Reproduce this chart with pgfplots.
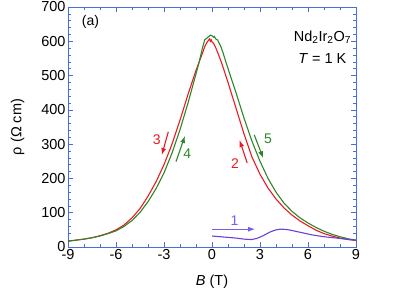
\documentclass[border=0pt]{standalone}
\usepackage{fontspec}
\setmainfont{Liberation Sans}
\usepackage{pgfplots}
\pgfplotsset{compat=1.18}
\usetikzlibrary{arrows.meta}
\definecolor{axblue}{RGB}{70,110,225}
\definecolor{cred}{RGB}{235,25,35}
\definecolor{cgreen}{RGB}{45,135,40}
\definecolor{cblue}{RGB}{105,65,215}
\definecolor{ablue}{RGB}{120,95,235}
\begin{document}
\begin{tikzpicture}
\begin{axis}[
  at={(0,0)}, anchor=south west,
  scale only axis, width=288pt, height=240pt,
  xmin=-9, xmax=9, ymin=0, ymax=700,
  xtick={-9,-6,...,9}, ytick={0,100,...,700},
  minor x tick num=2, minor y tick num=4,
  tick align=inside,
  major tick length=5pt, minor tick length=3pt,
  axis line style={axblue, line width=0.8pt},
  every tick/.style={axblue, line width=0.7pt},
  tick label style={font=\fontsize{14.5}{16}\selectfont, black},
  xticklabel style={yshift=1pt},
  yticklabel style={xshift=1pt},
  /pgf/number format/assume math mode=true,
  xlabel={\textit{B} (T)}, ylabel={ρ (Ω cm)},
  label style={font=\fontsize{14.5}{16}\selectfont},
  xlabel style={yshift=-8pt},
  ylabel style={yshift=10pt},
  clip=false,
]
\addplot[cred, line width=1.1pt] coordinates {
(9,19)(8.5,22)(8,26)(7.5,32)(7,39)(6.5,49)(6,62)(5.5,76)(5,93)(4.5,114)(4,140)(3.5,172)(3,212)(2.5,262)(2,330)(1.5,405)(1,480)(0.6,537)(0.4,562)(0.2,585)(0.1,594)(0,598)(-0.05,604)(-0.1,600)(-0.15,607)(-0.2,604)(-0.3,598)(-0.45,585)(-0.6,565)(-0.8,540)(-1,515)(-1.5,445)(-2,370)(-2.5,300)(-3,240)(-3.5,190)(-4,148)(-4.5,112)(-5,85)(-5.5,64)(-6,50)(-6.5,40)(-7,33)(-7.5,27)(-8,23)(-8.5,20)(-9,17)
};
\addplot[cgreen, line width=1.1pt] coordinates {
(-9,17)(-8.5,20)(-8,23)(-7.5,27)(-7,32)(-6.5,39)(-6,47)(-5.5,60)(-5,77)(-4.5,101)(-4,132)(-3.5,170)(-3,216)(-2.5,274)(-2,342)(-1.5,420)(-1,505)(-0.8,540)(-0.6,580)(-0.45,605)(-0.35,608)(-0.25,612)(-0.1,618)(0,616)(0.1,612)(0.15,614)(0.25,606)(0.35,604)(0.45,594)(0.55,585)(0.7,565)(0.9,535)(1.2,492)(1.5,450)(2,376)(2.5,308)(3,250)(3.5,200)(4,160)(4.5,128)(5,104)(5.5,85)(6,70)(6.5,57)(7,46)(7.5,37)(8,30)(8.5,24)(9,20)
};
\addplot[cblue, line width=1.1pt, smooth] coordinates {
(0,32)(0.5,30)(1,28)(1.5,26)(2,23)(2.5,22)(2.8,25)(3.2,33)(3.6,43)(4,50)(4.35,52)(4.8,50)(5.3,45)(5.8,40)(6.3,35)(7,30)(7.8,26)(8.5,22)(9,20)
};
\draw[ablue, line width=1.1pt, -{Latex[length=7pt,width=5pt]}] (axis cs:0,52) -- (axis cs:2.7,52);
\node[ablue, font=\fontsize{14}{16}\selectfont] at (axis cs:1.4,76) {1};
\draw[cred, line width=1.1pt, -{Latex[length=7pt,width=5pt]}] (axis cs:2.2,245) -- (axis cs:1.72,312);
\node[cred, font=\fontsize{14}{16}\selectfont] at (axis cs:1.44,244) {2};
\draw[cred, line width=1.1pt, -{Latex[length=7pt,width=5pt]}] (axis cs:-2.73,336) -- (axis cs:-3.14,268);
\node[cred, font=\fontsize{14}{16}\selectfont] at (axis cs:-3.46,312) {3};
\draw[cgreen, line width=1.1pt, -{Latex[length=7pt,width=5pt]}] (axis cs:-2.25,249) -- (axis cs:-1.69,324);
\node[cgreen, font=\fontsize{14}{16}\selectfont] at (axis cs:-1.55,273) {4};
\draw[cgreen, line width=1.1pt, -{Latex[length=7pt,width=5pt]}] (axis cs:2.64,327) -- (axis cs:3.2,259);
\node[cgreen, font=\fontsize{14}{16}\selectfont] at (axis cs:3.5,315) {5};
\node[font=\fontsize{14}{16}\selectfont] at (axis cs:-7.6,656) {(a)};
\node[font=\fontsize{14.5}{16}\selectfont] at (axis cs:6.9,612) {Nd\textsubscript{2}Ir\textsubscript{2}O\textsubscript{7}};
\node[font=\fontsize{14.5}{16}\selectfont] at (axis cs:6.9,551) {\textit{T} = 1 K};
\end{axis}
\pgfresetboundingbox
\path (-68pt,-47pt) rectangle (341pt,247pt);
\end{tikzpicture}
\end{document}
